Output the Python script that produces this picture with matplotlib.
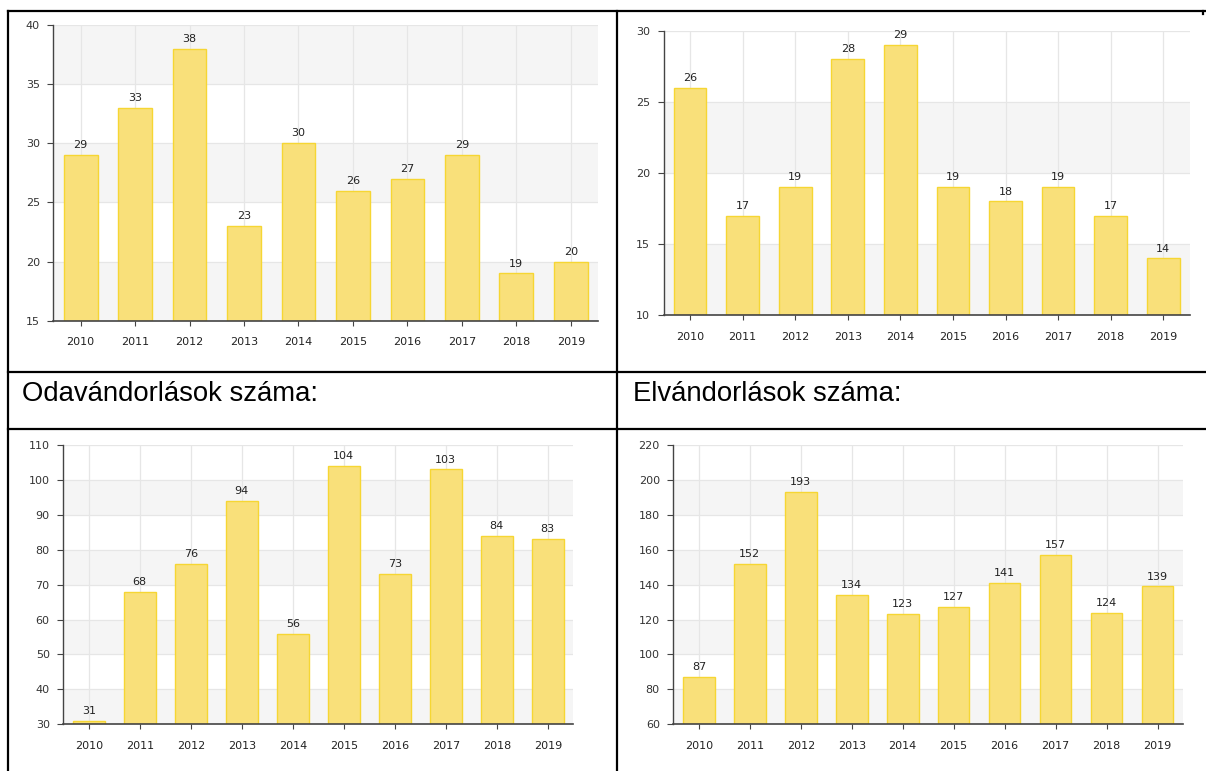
import numpy as np
import matplotlib
matplotlib.use("Agg")
import matplotlib.pyplot as plt
from matplotlib.lines import Line2D

years = ["2010", "2011", "2012", "2013", "2014", "2015", "2016", "2017", "2018", "2019"]

top_left_values = [29, 33, 38, 23, 30, 26, 27, 29, 19, 20]
top_right_values = [26, 17, 19, 28, 29, 19, 18, 19, 17, 14]
odavandorlas_values = [31, 68, 76, 94, 56, 104, 73, 103, 84, 83]
elvandorlas_values = [87, 152, 193, 134, 123, 127, 141, 157, 124, 139]

top_left_ticks = [15, 20, 25, 30, 35, 40]
top_right_ticks = [10, 15, 20, 25, 30]
odavandorlas_ticks = [30, 40, 50, 60, 70, 80, 90, 100, 110]
elvandorlas_ticks = [60, 80, 100, 120, 140, 160, 180, 200, 220]

header_left = "Odavándorlások száma:"
header_right = "Elvándorlások száma:"

W, H = 1206, 771
BAR_FACE = "#f9e07a"
BAR_EDGE = "#f6d633"
BAND = "#f5f5f5"
GRID = "#e6e6e6"


def px_axes(fig, left, top, right, bottom):
    # pixel box (origin top-left) -> figure fraction
    return fig.add_axes([left / W, 1 - bottom / H, (right - left) / W, (bottom - top) / H])


def draw_bar_chart(ax, values, ticks):
    x = np.arange(len(years))
    ax.set_xlim(-0.5, len(years) - 0.5)
    ax.set_ylim(ticks[0], ticks[-1])

    # alternating bands, bottom one grey
    for i in range(len(ticks) - 1):
        if i % 2 == 0:
            ax.axhspan(ticks[i], ticks[i + 1], color=BAND, lw=0, zorder=0)

    ax.set_axisbelow(True)
    ax.grid(True, color=GRID, lw=0.9)
    ax.set_xticks(x)
    ax.set_xticklabels(years)
    ax.set_yticks(ticks)

    bars = ax.bar(x, np.array(values) - ticks[0], width=0.62, bottom=ticks[0],
                  color=BAR_FACE, edgecolor=BAR_EDGE, linewidth=1.0, zorder=2)
    for rect, v in zip(bars, values):
        ax.annotate(str(v), (rect.get_x() + rect.get_width() / 2, v),
                    xytext=(0, 3.5), textcoords="offset points",
                    ha="center", va="bottom", fontsize=8, color="#222222")

    for side in ["top", "right"]:
        ax.spines[side].set_visible(False)
    ax.spines["left"].set_color("#444444")
    ax.spines["bottom"].set_color("#444444")
    ax.spines["left"].set_linewidth(1.0)
    ax.spines["bottom"].set_linewidth(1.2)
    ax.tick_params(axis="y", length=4.3, width=0.8, color="#444444", pad=5.5,
                   labelsize=8, labelcolor="#333333")
    ax.tick_params(axis="x", length=3.5, width=0.8, color="#444444", pad=8.5,
                   labelsize=8, labelcolor="#222222")


fig = plt.figure(figsize=(W / 100, H / 100), dpi=100)

ax1 = px_axes(fig, 53.4, 25, 598, 320.7)
draw_bar_chart(ax1, top_left_values, top_left_ticks)

ax2 = px_axes(fig, 663.8, 30.7, 1189.5, 315.3)
draw_bar_chart(ax2, top_right_values, top_right_ticks)

ax3 = px_axes(fig, 63.3, 445, 573.3, 724.3)
draw_bar_chart(ax3, odavandorlas_values, odavandorlas_ticks)

ax4 = px_axes(fig, 673.4, 445, 1183, 724.3)
draw_bar_chart(ax4, elvandorlas_values, elvandorlas_ticks)

# table borders
def border(x0, y0, x1, y1):
    fig.add_artist(Line2D([x0 / W, x1 / W], [1 - y0 / H, 1 - y1 / H],
                          color="black", lw=1.6, transform=fig.transFigure))

border(7.5, 10.7, W, 10.7)
border(7.5, 372.3, W, 372.3)
border(7.5, 428.6, W, 428.6)
border(7.5, 10.7, 7.5, H)
border(617.4, 10.7, 617.4, H)
border(1203, 10.7, 1203, 14)

fig.text(22 / W, 1 - 400.5 / H, header_left, fontsize=19.8, family="Liberation Sans",
         va="baseline", ha="left", color="black")
fig.text(633 / W, 1 - 400.5 / H, header_right, fontsize=19.8, family="Liberation Sans",
         va="baseline", ha="left", color="black")

fig.savefig("out.png", dpi=100)
